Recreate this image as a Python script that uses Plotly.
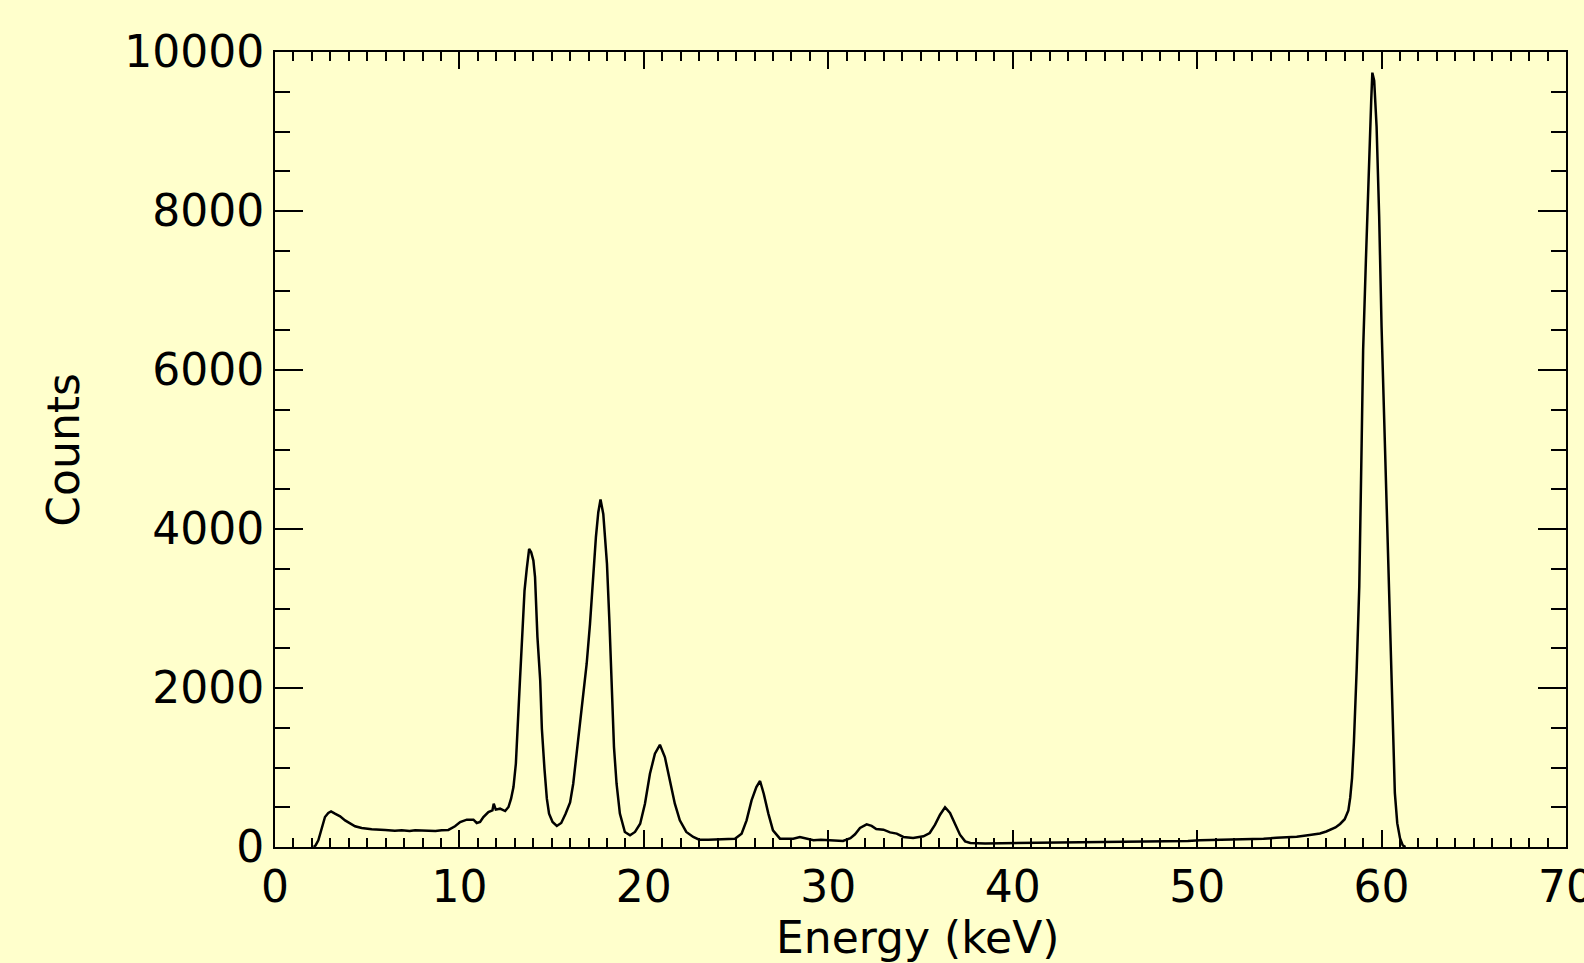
import plotly.graph_objects as go

energy_kev = [
    2.1, 2.2, 2.35, 2.53, 2.71, 2.89, 3.04, 3.25, 3.53, 3.8,
    4.07, 4.34, 4.7, 5.24, 5.97, 6.5, 6.87, 7.3, 7.6, 8.0,
    8.32, 8.7, 9.04, 9.4, 9.76, 10.04, 10.4, 10.76, 10.94, 11.12,
    11.3, 11.57, 11.79, 11.86, 11.97, 12.2, 12.48, 12.66, 12.8, 12.93,
    13.06, 13.16, 13.29, 13.42, 13.53, 13.65, 13.78, 13.89, 14.01, 14.1,
    14.23, 14.38, 14.47, 14.61, 14.74, 14.86, 15.05, 15.28, 15.52, 15.75,
    16.0, 16.17, 16.35, 16.53, 16.7, 16.9, 17.08, 17.26, 17.4, 17.53,
    17.65, 17.8, 18.0, 18.13, 18.25, 18.38, 18.52, 18.7, 18.97, 19.25,
    19.52, 19.8, 20.06, 20.33, 20.6, 20.87, 21.14, 21.41, 21.68, 21.95,
    22.3, 22.68, 23.0, 23.5, 24.0, 24.5, 24.94, 25.3, 25.57, 25.84,
    26.1, 26.3, 26.5, 26.75, 27.0, 27.38, 27.8, 28.1, 28.46, 28.8,
    29.2, 29.6, 30.0, 30.4, 30.8, 31.2, 31.45, 31.72, 32.08, 32.35,
    32.6, 32.99, 33.35, 33.71, 34.07, 34.6, 35.16, 35.5, 35.79, 36.06,
    36.33, 36.6, 36.87, 37.14, 37.42, 37.7, 38.5, 39.5, 40.5, 41.5,
    42.5, 43.5, 44.5, 45.5, 46.5, 47.5, 48.5, 49.5, 50.15, 51.1,
    52.0, 52.9, 53.6, 54.3, 55.0, 55.4, 56.1, 56.66, 57.0, 57.2,
    57.5, 57.75, 58.0, 58.2, 58.3, 58.4, 58.5, 58.65, 58.79, 58.92,
    59.0, 59.15, 59.31, 59.44, 59.5, 59.6, 59.73, 59.87, 60.0, 60.15,
    60.31, 60.45, 60.6, 60.72, 60.85, 61.0, 61.15, 61.3,
]

counts = [
    0, 20, 84, 230, 377, 427, 448, 419, 385, 335,
    293, 260, 239, 222, 214, 205, 210, 200, 210, 205,
    210, 200, 210, 215, 260, 314, 344, 344, 302, 314,
    377, 440, 461, 545, 470, 482, 452, 503, 608, 754,
    1047, 1592, 2137, 2723, 3226, 3498, 3750, 3708, 3603, 3394,
    2640, 2095, 1487, 985, 608, 419, 314, 265, 302, 415,
    560, 796, 1173, 1508, 1844, 2305, 2807, 3436, 3897, 4211,
    4370, 4190, 3561, 2849, 2011, 1257, 796, 420, 189, 147,
    189, 293, 545, 922, 1173, 1285, 1131, 838, 545, 335,
    189, 126, 92, 90, 95, 92, 105, 168, 335, 587,
    755, 830, 670, 420, 210, 105, 110, 105, 126, 110,
    84, 90, 84, 80, 75, 110, 160, 239, 285, 265,
    226, 218, 184, 168, 126, 113, 134, 176, 281, 406,
    500, 427, 281, 155, 71, 50, 45, 48, 50, 52,
    55, 57, 60, 62, 65, 65, 70, 75, 85, 88,
    92, 95, 105, 115, 122, 128, 150, 170, 195, 215,
    245, 290, 350, 460, 620, 870, 1320, 2230, 3270, 5080,
    6250, 7380, 8640, 9400, 9740, 9640, 9060, 7930, 6540, 5290,
    4030, 2770, 1430, 680, 300, 110, 20, 0,
]
assert len(energy_kev) == len(counts)

x_ticks = [0, 10, 20, 30, 40, 50, 60, 70]
y_ticks = [0, 2000, 4000, 6000, 8000, 10000]

BG = "#FFFFCC"
FONT = "DejaVu Sans"

fig = go.Figure()
fig.add_trace(go.Scatter(
    x=energy_kev, y=counts, mode="lines",
    line=dict(color="black", width=2.5),
    showlegend=False, hoverinfo="x+y",
))

axis_common = dict(
    showline=True, linecolor="black", linewidth=2, mirror="ticks",
    ticks="inside", tickcolor="black", tickwidth=2,
    showgrid=False, zeroline=False, automargin=False,
    tickfont=dict(family=FONT, size=44, color="black"),
    ticklabeloverflow="allow",
)

fig.update_xaxes(
    range=[0, 70], tickvals=x_ticks, ticktext=[str(v) for v in x_ticks],
    ticklen=17,
    minor=dict(dtick=1, tick0=0, ticks="inside", ticklen=9, tickwidth=2, tickcolor="black"),
    **axis_common,
)
fig.update_yaxes(
    range=[0, 10000], tickvals=y_ticks, ticktext=[str(v) for v in y_ticks],
    ticklen=28,
    minor=dict(dtick=500, tick0=0, ticks="inside", ticklen=15, tickwidth=2, tickcolor="black"),
    **axis_common,
)

fig.update_layout(
    width=1584, height=963,
    margin=dict(l=275, r=18, t=52, b=116, pad=0, autoexpand=False),
    paper_bgcolor=BG, plot_bgcolor=BG,
    font=dict(family=FONT, size=44, color="black"),
    annotations=[
        dict(text="Energy (keV)", xref="paper", yref="paper", x=0.498, y=-0.114,
             xanchor="center", yanchor="middle", showarrow=False,
             font=dict(family=FONT, size=44, color="black")),
        dict(text="Counts", xref="paper", yref="paper", x=-0.1637, y=0.4994,
             xanchor="center", yanchor="middle", showarrow=False, textangle=-90,
             font=dict(family=FONT, size=44, color="black")),
    ],
)

fig.write_html(
    "out.html",
    config={"displayModeBar": False},
    post_script="document.body.style.margin='0';document.body.style.overflow='hidden';",
)
